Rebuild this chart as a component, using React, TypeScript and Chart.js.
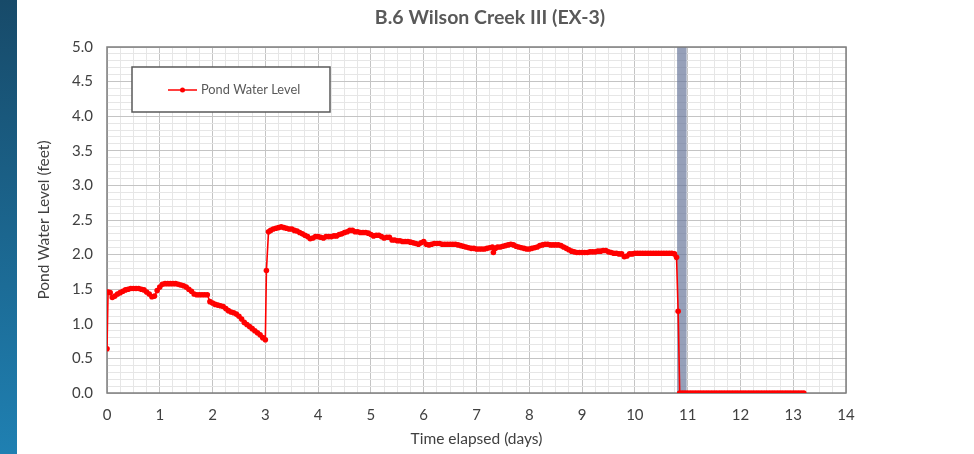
import React, { useEffect, useRef } from "react";
import { Chart, registerables } from "chart.js";

Chart.register(...registerables);

const chartTitle = "B.6 Wilson Creek III (EX-3)";
const seriesLabel = "Pond Water Level";
const xTitle = "Time elapsed (days)";
const yTitle = "Pond Water Level (feet)";

const days: number[] = [
  0.0, 0.02, 0.06, 0.1, 0.15, 0.2, 0.25, 0.3, 0.35, 0.4, 0.45, 0.5, 0.55, 0.6, 0.65, 0.7, 0.75, 0.8, 0.85, 0.9, 0.95,
  1.0, 1.05, 1.1, 1.15, 1.2, 1.25, 1.3, 1.35, 1.4, 1.45, 1.5, 1.55, 1.6, 1.65, 1.7, 1.75, 1.8, 1.85, 1.9, 1.95,
  2.0, 2.05, 2.1, 2.15, 2.2, 2.25, 2.3, 2.35, 2.4, 2.45, 2.5, 2.55, 2.6, 2.65, 2.7, 2.75, 2.8, 2.85, 2.9, 2.95,
  3.0, 3.02, 3.06, 3.1, 3.15, 3.2, 3.25, 3.3, 3.35, 3.4, 3.45, 3.5, 3.55, 3.6, 3.65, 3.7, 3.75, 3.8, 3.85, 3.9, 3.95,
  4.0, 4.05, 4.1, 4.15, 4.2, 4.25, 4.3, 4.35, 4.4, 4.45, 4.5, 4.55, 4.6, 4.65, 4.7, 4.75, 4.8, 4.85, 4.9, 4.95,
  5.0, 5.05, 5.1, 5.15, 5.2, 5.25, 5.3, 5.35, 5.4, 5.45, 5.5, 5.55, 5.6, 5.65, 5.7, 5.75, 5.8, 5.85, 5.9, 5.95,
  6.0, 6.05, 6.1, 6.15, 6.2, 6.25, 6.3, 6.35, 6.4, 6.45, 6.5, 6.55, 6.6, 6.65, 6.7, 6.75, 6.8, 6.85, 6.9, 6.95,
  7.0, 7.05, 7.1, 7.15, 7.2, 7.25, 7.3, 7.32, 7.36, 7.4, 7.45, 7.5, 7.55, 7.6, 7.65, 7.7, 7.75, 7.8, 7.85, 7.9, 7.95,
  8.0, 8.05, 8.1, 8.15, 8.2, 8.25, 8.3, 8.35, 8.4, 8.45, 8.5, 8.55, 8.6, 8.65, 8.7, 8.75, 8.8, 8.85, 8.9, 8.95,
  9.0, 9.05, 9.1, 9.15, 9.2, 9.25, 9.3, 9.35, 9.4, 9.45, 9.5, 9.55, 9.6, 9.65, 9.7, 9.75, 9.8, 9.85, 9.9, 9.95,
  10.0, 10.05, 10.1, 10.15, 10.2, 10.25, 10.3, 10.35, 10.4, 10.45, 10.5, 10.55, 10.6, 10.65, 10.7, 10.75, 10.79,
  10.82, 10.85, 10.9, 10.95, 11.0, 11.05, 11.1, 11.15, 11.2, 11.25, 11.3, 11.35, 11.4, 11.45, 11.5, 11.55, 11.6,
  11.65, 11.7, 11.75, 11.8, 11.85, 11.9, 11.95, 12.0, 12.05, 12.1, 12.15, 12.2, 12.25, 12.3, 12.35, 12.4, 12.45,
  12.5, 12.55, 12.6, 12.65, 12.7, 12.75, 12.8, 12.85, 12.9, 12.95, 13.0, 13.05, 13.1, 13.15, 13.2,
];

const level: number[] = [
  0.64, 1.46, 1.45, 1.38, 1.4, 1.43, 1.45, 1.47, 1.49, 1.5, 1.51, 1.51, 1.51, 1.51, 1.5, 1.49, 1.46, 1.43, 1.39, 1.4, 1.48,
  1.53, 1.57, 1.58, 1.58, 1.58, 1.58, 1.58, 1.57, 1.56, 1.55, 1.53, 1.5, 1.47, 1.43, 1.42, 1.42, 1.42, 1.42, 1.42, 1.32,
  1.3, 1.28, 1.27, 1.26, 1.25, 1.22, 1.19, 1.17, 1.16, 1.14, 1.11, 1.07, 1.02, 0.99, 0.96, 0.93, 0.9, 0.87, 0.84, 0.8,
  0.77, 1.77, 2.33, 2.35, 2.37, 2.38, 2.39, 2.4, 2.39, 2.38, 2.37, 2.37, 2.35, 2.34, 2.32, 2.3, 2.28, 2.26, 2.23, 2.24, 2.26,
  2.26, 2.25, 2.24, 2.26, 2.26, 2.26, 2.27, 2.27, 2.29, 2.3, 2.32, 2.33, 2.35, 2.35, 2.33, 2.33, 2.32, 2.32, 2.32, 2.31,
  2.29, 2.27, 2.28, 2.28, 2.26, 2.24, 2.25, 2.25, 2.21, 2.21, 2.2, 2.2, 2.19, 2.19, 2.19, 2.18, 2.17, 2.16, 2.15, 2.17,
  2.19, 2.15, 2.14, 2.15, 2.16, 2.16, 2.16, 2.15, 2.15, 2.15, 2.15, 2.15, 2.15, 2.14, 2.13, 2.12, 2.11, 2.1, 2.09, 2.09,
  2.08, 2.08, 2.08, 2.08, 2.09, 2.1, 2.11, 2.03, 2.09, 2.11, 2.11, 2.12, 2.13, 2.14, 2.15, 2.14, 2.12, 2.11, 2.1, 2.09, 2.08,
  2.08, 2.09, 2.1, 2.11, 2.13, 2.14, 2.15, 2.15, 2.14, 2.14, 2.14, 2.14, 2.13, 2.11, 2.09, 2.07, 2.05, 2.04, 2.03, 2.03,
  2.03, 2.03, 2.03, 2.04, 2.04, 2.04, 2.05, 2.05, 2.06, 2.06, 2.04, 2.03, 2.02, 2.02, 2.01, 2.01, 1.97, 1.98, 2.01, 2.01,
  2.02, 2.02, 2.02, 2.02, 2.02, 2.02, 2.02, 2.02, 2.02, 2.02, 2.02, 2.02, 2.02, 2.02, 2.02, 2.01, 1.96,
  1.18, 0.0, 0.0, 0.0, 0.0, 0.0, 0.0, 0.0, 0.0, 0.0, 0.0, 0.0, 0.0, 0.0, 0.0, 0.0, 0.0,
  0.0, 0.0, 0.0, 0.0, 0.0, 0.0, 0.0, 0.0, 0.0, 0.0, 0.0, 0.0, 0.0, 0.0, 0.0, 0.0, 0.0,
  0.0, 0.0, 0.0, 0.0, 0.0, 0.0, 0.0, 0.0, 0.0, 0.0, 0.0, 0.0, 0.0, 0.0, 0.0,
];

const bandStart = 10.8;
const bandEnd = 10.98;

const FONT = "Lato, 'Open Sans', sans-serif";
const TEXT = "#404040";

export default function App() {
  const ref = useRef<HTMLCanvasElement | null>(null);

  useEffect(() => {
    if (!ref.current) return;
    const points = days.map((d, i) => ({ x: d, y: level[i] }));

    const decor = {
      id: "decor",
      beforeDraw(chart: any) {
        const ctx = chart.ctx;
        ctx.save();
        ctx.fillStyle = "#ffffff";
        ctx.fillRect(0, 0, chart.width, chart.height);
        const g = ctx.createLinearGradient(0, 0, 0, chart.height);
        g.addColorStop(0, "#174a69");
        g.addColorStop(1, "#1f80b2");
        ctx.fillStyle = g;
        ctx.fillRect(0, 0, 17, chart.height);
        ctx.fillStyle = "#595959";
        ctx.font = `bold 19.5px ${FONT}`;
        ctx.textAlign = "center";
        ctx.textBaseline = "middle";
        ctx.fillText(chartTitle, 490, 18);
        ctx.restore();
      },
      beforeDatasetsDraw(chart: any) {
        const ctx = chart.ctx;
        const a = chart.chartArea;
        const xs = chart.scales.x;
        ctx.save();
        const x0 = xs.getPixelForValue(bandStart);
        const x1 = xs.getPixelForValue(bandEnd);
        ctx.fillStyle = "rgba(105,120,155,0.7)";
        ctx.fillRect(x0, a.top, x1 - x0, a.bottom - a.top);
        ctx.strokeStyle = "#7f7f7f";
        ctx.lineWidth = 1.5;
        ctx.strokeRect(a.left, a.top, a.right - a.left, a.bottom - a.top);
        ctx.restore();
      },
      afterDraw(chart: any) {
        const ctx = chart.ctx;
        const a = chart.chartArea;
        const bx = a.left + 25;
        const by = a.top + 20;
        ctx.save();
        ctx.fillStyle = "#ffffff";
        ctx.fillRect(bx, by, 198, 45);
        ctx.strokeStyle = "#595959";
        ctx.lineWidth = 1.5;
        ctx.strokeRect(bx, by, 198, 45);
        const ly = by + 23;
        ctx.strokeStyle = "#ff0000";
        ctx.lineWidth = 1.5;
        ctx.beginPath();
        ctx.moveTo(bx + 36, ly);
        ctx.lineTo(bx + 65, ly);
        ctx.stroke();
        ctx.fillStyle = "#ff0000";
        ctx.beginPath();
        ctx.arc(bx + 50.5, ly, 2.5, 0, Math.PI * 2);
        ctx.fill();
        ctx.fillStyle = "#595959";
        ctx.font = `12.8px ${FONT}`;
        ctx.textAlign = "left";
        ctx.textBaseline = "middle";
        ctx.fillText(chart.data.datasets[0].label, bx + 69, ly);
        ctx.restore();
      },
    };

    const chart = new Chart(ref.current, {
      type: "scatter",
      data: {
        datasets: [
          {
            label: seriesLabel,
            data: points,
            showLine: true,
            borderColor: "#ff0000",
            backgroundColor: "#ff0000",
            borderWidth: 1.6,
            pointRadius: 2.8,
            pointBorderWidth: 0,
            pointHoverRadius: 2.8,
          },
        ],
      },
      options: {
        responsive: false,
        animation: false,
        events: [],
        layout: { padding: { left: 17, right: 128, top: 47, bottom: 0 } },
        plugins: {
          legend: { display: false },
          title: { display: false },
          tooltip: { enabled: false },
        },
        scales: {
          x: {
            type: "linear",
            min: 0,
            max: 14,
            afterFit(scale: any) {
              scale.height = 61;
            },
            border: { display: false },
            grid: {
              drawTicks: false,
              lineWidth: 1,
              color: (c: any) => (c.tick && Math.abs(c.tick.value - Math.round(c.tick.value)) < 1e-6 ? "#c4c4c4" : "#e6e6e6"),
            },
            ticks: {
              stepSize: 0.25,
              autoSkip: false,
              maxRotation: 0,
              padding: 13,
              color: TEXT,
              font: { family: FONT, size: 15 },
              callback: (v: any) => (Math.abs(v - Math.round(v)) < 1e-6 ? String(Math.round(v)) : ""),
            },
            title: {
              display: true,
              text: xTitle,
              color: TEXT,
              font: { family: FONT, size: 15.5 },
              padding: { top: 2, bottom: 6 },
            },
          },
          y: {
            type: "linear",
            min: 0,
            max: 5,
            afterFit(scale: any) {
              scale.width = 90;
            },
            border: { display: false },
            grid: {
              drawTicks: false,
              lineWidth: 1,
              color: (c: any) =>
                c.tick && Math.abs(c.tick.value * 2 - Math.round(c.tick.value * 2)) < 1e-6 ? "#c4c4c4" : "#e6e6e6",
            },
            ticks: {
              stepSize: 0.1,
              autoSkip: false,
              padding: 14,
              color: TEXT,
              font: { family: FONT, size: 15 },
              callback: (v: any) =>
                Math.abs(v * 2 - Math.round(v * 2)) < 1e-6 ? (Math.round(v * 2) / 2).toFixed(1) : "",
            },
            title: {
              display: true,
              text: yTitle,
              color: TEXT,
              font: { family: FONT, size: 15.5 },
              padding: { top: 18, bottom: 0 },
            },
          },
        },
      },
      plugins: [decor],
    });
    return () => chart.destroy();
  }, []);

  return (
    <div style={{ position: "fixed", left: 0, top: 0, width: 974, height: 454 }}>
      <canvas ref={ref} width={974} height={454} style={{ width: 974, height: 454, display: "block" }} />
    </div>
  );
}
